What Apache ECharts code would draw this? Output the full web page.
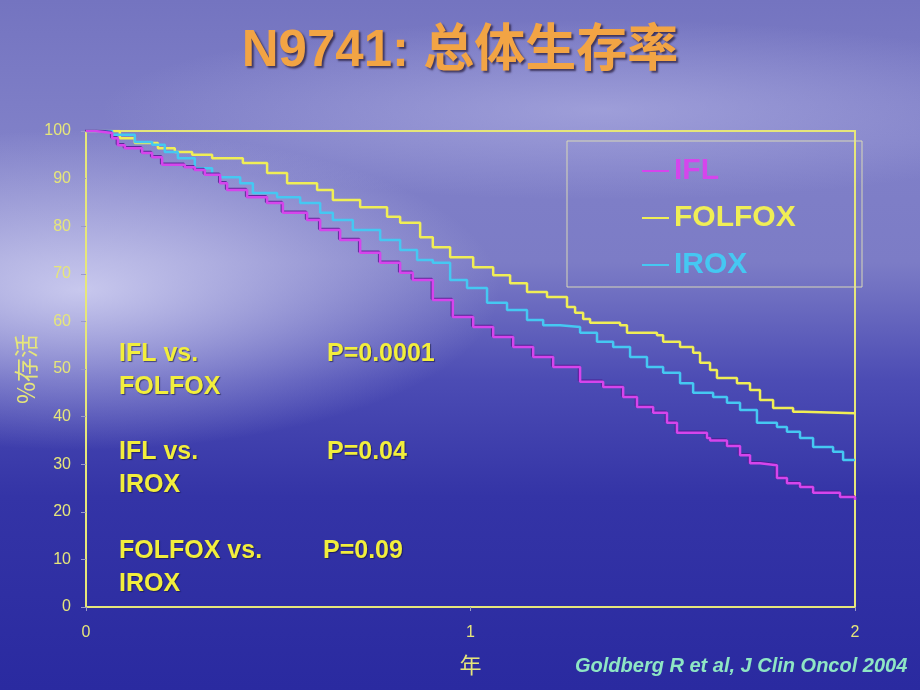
<!DOCTYPE html>
<html>
<head>
<meta charset="utf-8">
<script src="https://cdn.jsdelivr.net/npm/echarts@6/dist/echarts.min.js"></script>
<style>
html,body{margin:0;padding:0;width:920px;height:690px;overflow:hidden;}
body{
  background:
    radial-gradient(ellipse 420px 160px at 80px 290px, rgba(215,215,245,0.85), rgba(215,215,245,0) 100%),
    radial-gradient(ellipse 500px 90px at 600px 110px, rgba(190,190,235,0.5), rgba(190,190,235,0) 100%),
    linear-gradient(to bottom, #7474c0 0%, #8080c8 20%, #7c7cc6 38%, #4c4cb4 55%, #3434a6 72%, #2a2aa0 100%);
}
#chart{width:920px;height:690px;}
</style>
</head>
<body>
<div id="chart"></div>
<script>
// ---- data (years, % surviving) ----
const iflTime = [0,0.023,0.068,0.083,0.101,0.146,0.172,0.198,0.257,0.283,0.309,0.349,0.367,0.401,0.419,0.471,0.512,0.575,0.609,0.661,0.713,0.765,0.817,0.850,0.902,0.954,1.007,1.059,1.111,1.163,1.215,1.285,1.345,1.397,1.433,1.475,1.511,1.537,1.615,1.623,1.667,1.701,1.727,1.753,1.797,1.823,1.857,1.891,1.961,2.0];
const iflSurv = [100,99.6,98.5,97,96.4,95.4,94.5,92.9,92.4,91.8,90.8,89,87.6,87.6,86.1,84.9,82.8,81.3,79.2,77.1,74.4,72.3,70.2,68.7,64.5,60.9,58.8,56.7,54.6,52.5,50.4,47.3,46.2,44.1,42,40.8,38.7,36.6,35.5,35,33.8,31.9,30.2,29.8,27.1,26,25.2,24,23.1,22.5];

const folfoxTime = [0,0.049,0.088,0.127,0.187,0.231,0.276,0.328,0.393,0.408,0.471,0.523,0.601,0.642,0.713,0.783,0.817,0.869,0.902,0.947,1.007,1.059,1.103,1.147,1.199,1.251,1.272,1.293,1.311,1.389,1.407,1.485,1.501,1.545,1.579,1.597,1.623,1.641,1.693,1.727,1.753,1.787,1.839,1.865,2.0];
const folfoxSurv = [100,100,98.5,97.5,96.4,95.6,95,94.3,94.3,93.3,91.2,89,87.6,85.5,84,82,80.7,77.7,75.6,73.5,71.4,69.7,68,66.2,65.1,63,61.8,60.5,59.7,59.2,57.6,57.1,55.7,54.6,53.4,51.3,49.8,48.1,47,45.6,43.5,41.8,41,40.7,40.7];

const iroxTime = [0,0.068,0.127,0.172,0.205,0.239,0.283,0.328,0.349,0.401,0.434,0.497,0.557,0.609,0.642,0.694,0.765,0.817,0.861,0.902,0.947,0.991,1.043,1.095,1.147,1.189,1.233,1.285,1.329,1.371,1.415,1.459,1.501,1.545,1.579,1.631,1.667,1.701,1.745,1.797,1.823,1.857,1.891,1.943,1.969,2.0];
const iroxSurv = [100,99.2,97.7,97.1,95.6,94.3,92.2,90.8,90.3,89,87,86.1,84.9,82.8,81.3,79.2,77.1,75,72.9,72.3,68.7,67,63.9,62.4,60.3,59.2,58.8,57.6,55.7,54.6,52.5,50.4,49.2,47,45,44.1,42.9,41.4,38.7,37.8,36.8,35.5,33.6,32.6,30.9,30.9];

const seriesNames = ['IFL','FOLFOX','IROX'];
const seriesColors = ['#d545ec','#f0ee55','#45c8f2'];
const xTicks = [0,1,2];
const yTicks = [0,10,20,30,40,50,60,70,80,90,100];
const titleText = 'N9741: 总体生存率';
const yName = '%存活';
const xName = '年';
const notes = [
  ['IFL vs.', 'P=0.0001', 'FOLFOX'],
  ['IFL vs.', 'P=0.04', 'IROX'],
  ['FOLFOX vs.', 'P=0.09', 'IROX']
];
const citation = 'Goldberg R et al, J Clin Oncol 2004';

// ---- chart ----
const zip = (t, v) => t.map((x, i) => [x, v[i]]);
const chart = echarts.init(document.getElementById('chart'), null, {renderer: 'canvas'});
const axisYellow = '#e6e67a';
const textFont = '"Liberation Sans", Arial, "Noto Sans CJK SC", sans-serif';

const noteGraphics = [];
const noteTops = [342, 440, 539];
const pX = [327, 327, 323];
notes.forEach((n, i) => {
  const base = {fill: '#f2ee3c', font: 'bold 25px ' + textFont, textShadowColor: 'rgba(20,20,60,0.6)', textShadowOffsetX: 1, textShadowOffsetY: 1, textShadowBlur: 1};
  noteGraphics.push({type: 'text', left: 119, top: noteTops[i], style: Object.assign({text: n[0]}, base)});
  noteGraphics.push({type: 'text', left: pX[i], top: noteTops[i], style: Object.assign({text: n[1]}, base)});
  noteGraphics.push({type: 'text', left: 119, top: noteTops[i] + 33, style: Object.assign({text: n[2]}, base)});
});

chart.setOption({
  backgroundColor: 'transparent',
  animation: false,
  title: {
    text: titleText,
    left: 'center',
    top: 21,
    textStyle: {
      color: '#f2a444',
      fontSize: 51,
      fontWeight: 'bold',
      fontFamily: textFont,
      textShadowColor: 'rgba(40,30,60,0.75)',
      textShadowOffsetX: 2,
      textShadowOffsetY: 2,
      textShadowBlur: 2
    }
  },
  grid: {
    left: 86, right: 65, top: 131, bottom: 83,
    show: true, borderColor: axisYellow, borderWidth: 2,
    containLabel: false
  },
  legend: {
    orient: 'vertical',
    left: 637,
    top: 151,
    itemWidth: 27,
    itemHeight: 2,
    itemGap: 17,
    icon: 'rect',
    selectedMode: false,
    data: seriesNames.map((n, i) => ({
      name: n,
      textStyle: {color: seriesColors[i], fontSize: 30, fontWeight: 'bold', fontFamily: textFont}
    }))
  },
  xAxis: {
    type: 'value',
    min: 0, max: 2, interval: 1,
    name: xName,
    nameLocation: 'middle',
    nameGap: 47,
    nameTextStyle: {color: axisYellow, fontSize: 22, fontFamily: '"Noto Sans CJK SC", sans-serif'},
    axisLine: {show: true, lineStyle: {color: axisYellow, width: 2}},
    axisTick: {show: true, length: 4, lineStyle: {color: '#9a9ac8'}},
    axisLabel: {color: axisYellow, fontSize: 16, margin: 18, fontFamily: textFont,
      formatter: v => xTicks.includes(v) ? String(v) : ''},
    splitLine: {show: false}
  },
  yAxis: {
    type: 'value',
    min: 0, max: 100, interval: 10,
    name: yName,
    nameLocation: 'middle',
    nameGap: 48,
    nameMoveOverlap: false,
    nameRotate: 90,
    nameTextStyle: {color: axisYellow, fontSize: 24, fontFamily: '"Noto Sans CJK SC", sans-serif'},
    axisLine: {show: true, lineStyle: {color: axisYellow, width: 2}},
    axisTick: {show: true, length: 5, lineStyle: {color: '#9a9ac8'}},
    axisLabel: {color: axisYellow, fontSize: 16, margin: 15, fontFamily: textFont,
      formatter: v => yTicks.includes(v) ? String(v) : ''},
    splitLine: {show: false}
  },
  graphic: [
    {type: 'rect', shape: {x: 567, y: 141, width: 295, height: 146},
      style: {fill: 'none', stroke: '#d8d8b8', lineWidth: 1}},
    {type: 'text', left: 575, top: 656,
      style: {text: citation, fill: '#8ee6c4', font: 'italic bold 20px ' + textFont}}
  ].concat(noteGraphics),
  series: [
    {name: seriesNames[0], type: 'line', step: 'end', symbol: 'none',
      data: zip(iflTime, iflSurv),
      lineStyle: {color: seriesColors[0], width: 2.5, shadowColor: 'rgba(80,20,140,0.8)', shadowOffsetX: -1, shadowOffsetY: -1},
      itemStyle: {color: seriesColors[0]}, z: 3},
    {name: seriesNames[1], type: 'line', step: 'end', symbol: 'none',
      data: zip(folfoxTime, folfoxSurv),
      lineStyle: {color: seriesColors[1], width: 2.5},
      itemStyle: {color: seriesColors[1]}, z: 2},
    {name: seriesNames[2], type: 'line', step: 'end', symbol: 'none',
      data: zip(iroxTime, iroxSurv),
      lineStyle: {color: seriesColors[2], width: 2.5},
      itemStyle: {color: seriesColors[2]}, z: 2}
  ]
});
</script>
</body>
</html>
